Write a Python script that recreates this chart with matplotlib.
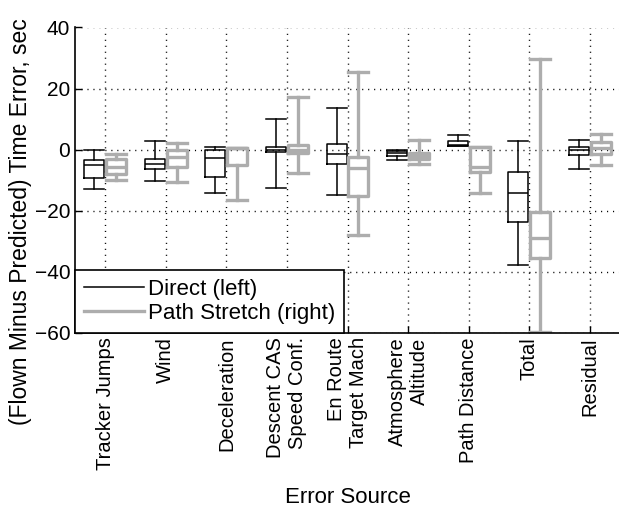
import numpy as np
import matplotlib.pyplot as plt
from matplotlib.lines import Line2D

plt.rcParams['font.family'] = ['Liberation Sans', 'DejaVu Sans']

sources = ['Tracker Jumps', 'Wind', 'Deceleration', 'Descent CAS\nSpeed Conf.',
           'En Route\nTarget Mach', 'Atmosphere\nAltitude', 'Path Distance',
           'Total', 'Residual']

# Direct routing (left box of each pair), seconds
direct_lo = [-13.0, -10.2, -14.4, -12.5, -14.9, -3.3, 1.2, -37.9, -6.5]
direct_q1 = [-9.5, -6.5, -9.1, -0.8, -4.9, -2.2, 1.2, -23.7, -1.8]
direct_med = [-5.0, -4.6, -2.8, 0.0, -1.6, -1.2, 1.6, -14.1, -0.2]
direct_q3 = [-3.5, -3.1, 0.0, 0.7, 1.8, -0.4, 2.8, -7.4, 0.9]
direct_hi = [0.0, 2.8, 0.8, 10.0, 13.5, -0.3, 4.8, 2.8, 3.2]

# Path stretch (right box of each pair), seconds
stretch_lo = [-10.0, -10.7, -16.5, -7.6, -28.0, -4.8, -14.3, -59.7, -5.0]
stretch_q1 = [-8.1, -5.6, -5.0, -1.2, -15.2, -3.0, -7.3, -35.5, -1.5]
stretch_med = [-5.7, -2.4, 0.4, -0.3, -6.2, -2.0, -5.6, -29.0, 0.5]
stretch_q3 = [-3.0, 0.0, 0.5, 1.4, -2.3, -1.0, 0.9, -20.6, 2.5]
stretch_hi = [-1.5, 2.0, 0.5, 17.1, 25.3, 3.2, 0.9, 29.6, 5.0]

y_ticks = [-60, -40, -20, 0, 20, 40]


def box_stats(lo, q1, med, q3, hi):
    return [dict(whislo=a, q1=b, med=c, q3=d, whishi=e, fliers=[])
            for a, b, c, d, e in zip(lo, q1, med, q3, hi)]


def style(color, lw):
    p = dict(color=color, linewidth=lw, linestyle='-')
    return dict(boxprops=p, whiskerprops=p, capprops=p, medianprops=p)


gray = '#adadad'
fig = plt.figure(figsize=(6.19, 5.15), dpi=100)
ax = fig.add_axes([75 / 619, (515 - 332.5) / 515, 545 / 619, 305 / 515])

pos = np.arange(1, len(sources) + 1)
ax.bxp(box_stats(direct_lo, direct_q1, direct_med, direct_q3, direct_hi),
       positions=pos - 0.18, widths=0.33, capwidths=0.33, showfliers=False,
       manage_ticks=False, **style('black', 1.1))
ax.bxp(box_stats(stretch_lo, stretch_q1, stretch_med, stretch_q3, stretch_hi),
       positions=pos + 0.18, widths=0.33, capwidths=0.33, showfliers=False,
       manage_ticks=False, **style(gray, 2.4))

ax.set_xlim(0.5, len(sources) + 0.5)
ax.set_ylim(-60, 40)
ax.set_yticks(y_ticks)
ax.set_xticks(pos)
ax.set_xticklabels(sources, rotation=90, multialignment='right', fontsize=14.5)
ax.tick_params(axis='y', labelsize=15)
ax.tick_params(direction='in', length=5, width=1, top=False, right=False)
ax.grid(True, color='black', linestyle=(0, (0.8, 3.5)), linewidth=1)
ax.set_axisbelow(True)

for side in ['top', 'right']:
    ax.spines[side].set_visible(False)
for side in ['left', 'bottom']:
    ax.spines[side].set_linewidth(1.2)

ax.set_xlabel('Error Source', fontsize=16, labelpad=12)
ax.set_ylabel('(Flown Minus Predicted) Time Error, sec', fontsize=16.5)
ax.yaxis.set_label_coords(-0.078, 0.365)

handles = [Line2D([], [], color='black', linewidth=1.1),
           Line2D([], [], color=gray, linewidth=2.4)]
leg = ax.legend(handles, ['Direct (left)', 'Path Stretch (right)'],
                loc='lower left', bbox_to_anchor=(0, 0), borderaxespad=0,
                fontsize=16, fancybox=False, framealpha=1, edgecolor='black',
                handlelength=2.7, handletextpad=0.2, labelspacing=0.12,
                borderpad=0.4)
leg.get_frame().set_linewidth(1.2)

fig.savefig('out.png', dpi=100)
